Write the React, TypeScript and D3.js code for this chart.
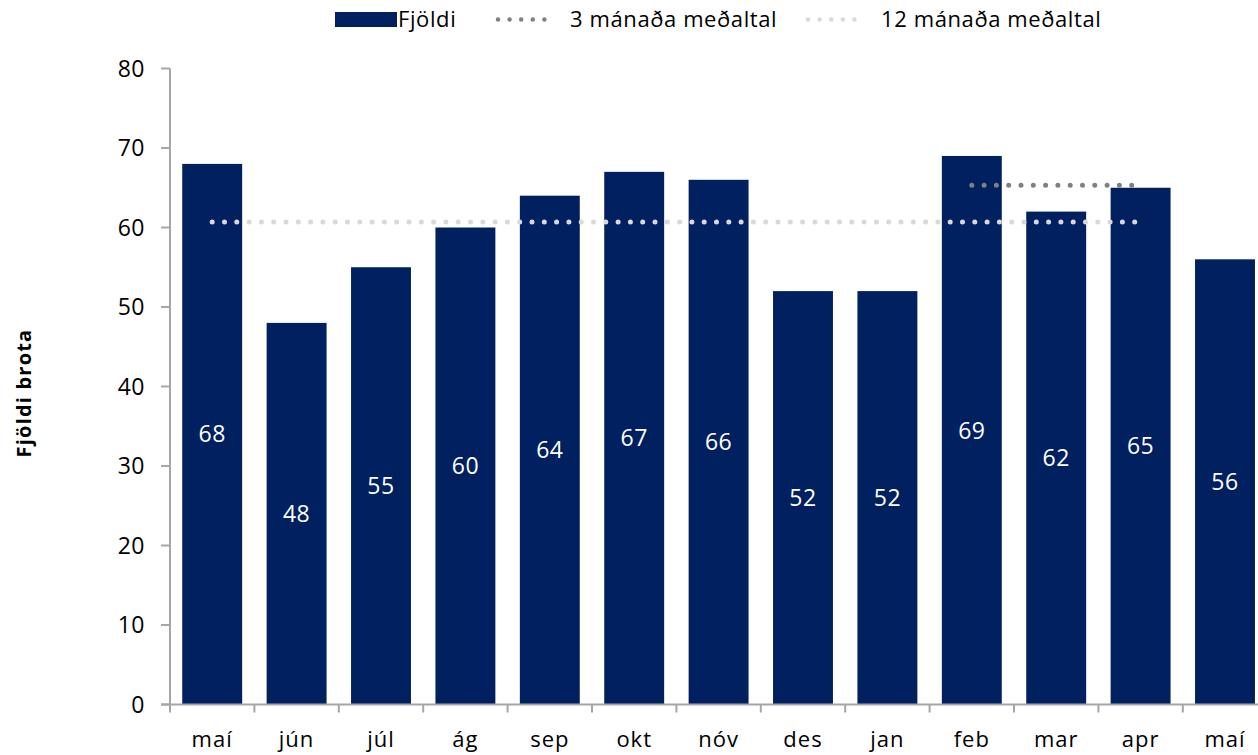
import React from "react";
import * as d3 from "d3";

const months = ["maí", "jún", "júl", "ág", "sep", "okt", "nóv", "des", "jan", "feb", "mar", "apr", "maí"];
const counts = [68, 48, 55, 60, 64, 67, 66, 52, 52, 69, 62, 65, 56];
// 12 month average, drawn from first maí to apr
const avg12 = [60.7, 60.7, 60.7, 60.7, 60.7, 60.7, 60.7, 60.7, 60.7, 60.7, 60.7, 60.7, null];
// 3 month average, feb to apr
const avg3 = [null, null, null, null, null, null, null, null, null, 65.3, 65.3, 65.3, null];
const yTicks = [0, 10, 20, 30, 40, 50, 60, 70, 80];

const W = 1258;
const H = 755;
const FONT = "'Open Sans', sans-serif";
const BAR = "#002060";
const AXIS = "#a6a6a6";
const DOT12 = "#d9d9d9";
const DOT3 = "#808080";

export default function App() {
  const margin = { left: 170, top: 68.5, bottom: 704.5 };
  const step = 84.4;
  const idx = months.map((_, i) => i);

  const x = d3
    .scaleBand<number>()
    .domain(idx)
    .range([margin.left, margin.left + step * months.length])
    .paddingInner(0.29)
    .paddingOuter(0.145);
  const y = d3.scaleLinear().domain([0, 80]).range([margin.bottom, margin.top]);
  const cx = (i: number) => (x(i) as number) + x.bandwidth() / 2;

  const line = d3
    .line<number | null>()
    .defined((d) => d !== null)
    .x((_, i) => cx(i))
    .y((d) => y(d as number));

  const boundaries = d3.range(months.length + 1).map((i) => margin.left + i * step);

  return (
    <svg
      width={W}
      height={H}
      style={{ position: "absolute", left: 0, top: 0, display: "block", background: "#fff" }}
      fontFamily={FONT}
    >
      {/* bars */}
      {counts.map((v, i) => (
        <rect key={"b" + i} x={x(i)} y={y(v)} width={x.bandwidth()} height={y(0) - y(v)} fill={BAR} />
      ))}

      {/* averages */}
      <path d={line(avg12) || ""} fill="none" stroke={DOT12} strokeWidth={5} strokeLinecap="round" strokeDasharray="0 12.3" />
      <path d={line(avg3) || ""} fill="none" stroke={DOT3} strokeWidth={5} strokeLinecap="round" strokeDasharray="0 12.3" />

      {/* value labels */}
      {counts.map((v, i) => (
        <text key={"v" + i} x={cx(i)} y={y(v / 2)} dy="0.36em" textAnchor="middle" fill="#fff" fontSize={23} letterSpacing={0.5}>
          {v}
        </text>
      ))}

      {/* y axis */}
      <line x1={margin.left} x2={margin.left} y1={y(80)} y2={y(0)} stroke={AXIS} strokeWidth={2} />
      {yTicks.map((t) => (
        <g key={"y" + t}>
          <line x1={margin.left - 9} x2={margin.left} y1={y(t)} y2={y(t)} stroke={AXIS} strokeWidth={2} />
          <text x={145} y={y(t)} dy="0.36em" textAnchor="end" fontSize={23} letterSpacing={0.5} fill="#000">
            {t}
          </text>
        </g>
      ))}

      {/* x axis */}
      <line x1={margin.left - 9} x2={W} y1={y(0)} y2={y(0)} stroke={AXIS} strokeWidth={2} />
      {boundaries.map((b, i) => (
        <line key={"t" + i} x1={b} x2={b} y1={y(0)} y2={y(0) + 8} stroke={AXIS} strokeWidth={2} />
      ))}
      {months.map((m, i) => (
        <text key={"m" + i} x={cx(i)} y={747} textAnchor="middle" fontSize={22} letterSpacing={1} fill="#000">
          {m}
        </text>
      ))}

      {/* y title */}
      <text
        transform={`translate(31,${393}) rotate(-90)`}
        textAnchor="middle"
        fontSize={20}
        fontWeight="bold"
        letterSpacing={1.2}
        fill="#000"
      >
        Fjöldi brota
      </text>

      {/* legend */}
      <g fontSize={22} letterSpacing={0.6} fill="#000">
        <rect x={335} y={12} width={62} height={15} fill={BAR} />
        <text x={398} y={19.5} dy="0.36em">Fjöldi</text>
        <line x1={498} x2={556} y1={19.5} y2={19.5} stroke={DOT3} strokeWidth={4.5} strokeLinecap="round" strokeDasharray="0 11.6" />
        <text x={570} y={19.5} dy="0.36em">3 mánaða meðaltal</text>
        <line x1={808} x2={866} y1={19.5} y2={19.5} stroke={DOT12} strokeWidth={4.5} strokeLinecap="round" strokeDasharray="0 11.6" />
        <text x={881} y={19.5} dy="0.36em">12 mánaða meðaltal</text>
      </g>
    </svg>
  );
}
